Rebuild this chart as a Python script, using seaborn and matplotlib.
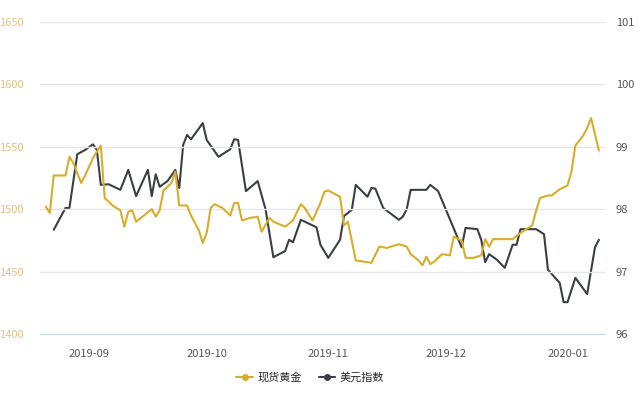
import numpy as np
import pandas as pd
import matplotlib
matplotlib.use("Agg")
import matplotlib.pyplot as plt
import matplotlib.dates as mdates
import seaborn as sns

# spot gold (left axis)
gold_dates = ["2019-08-21", "2019-08-22", "2019-08-23", "2019-08-26", "2019-08-27", "2019-08-28",
              "2019-08-30", "2019-08-31", "2019-09-02", "2019-09-04", "2019-09-05", "2019-09-07",
              "2019-09-09", "2019-09-10", "2019-09-11", "2019-09-12", "2019-09-13", "2019-09-17",
              "2019-09-18", "2019-09-19", "2019-09-20", "2019-09-22", "2019-09-23", "2019-09-24",
              "2019-09-26", "2019-09-27", "2019-09-29", "2019-09-30", "2019-10-01", "2019-10-02",
              "2019-10-03", "2019-10-05", "2019-10-07", "2019-10-08", "2019-10-09", "2019-10-10",
              "2019-10-12", "2019-10-14", "2019-10-15", "2019-10-17", "2019-10-18", "2019-10-21",
              "2019-10-23", "2019-10-25", "2019-10-26", "2019-10-28", "2019-10-30", "2019-10-31",
              "2019-11-01", "2019-11-04", "2019-11-05", "2019-11-06", "2019-11-08", "2019-11-12",
              "2019-11-14", "2019-11-16", "2019-11-19", "2019-11-21", "2019-11-22", "2019-11-24",
              "2019-11-25", "2019-11-26", "2019-11-27", "2019-11-28", "2019-11-30", "2019-12-02",
              "2019-12-03", "2019-12-05", "2019-12-06", "2019-12-08", "2019-12-10", "2019-12-11",
              "2019-12-12", "2019-12-13", "2019-12-18", "2019-12-20", "2019-12-23", "2019-12-24",
              "2019-12-25", "2019-12-27", "2019-12-28", "2019-12-30", "2020-01-01", "2020-01-02",
              "2020-01-03", "2020-01-05", "2020-01-06", "2020-01-07", "2020-01-09"]
gold_values = [1502, 1497, 1527, 1527, 1542, 1537,
               1521, 1527, 1541, 1551, 1509, 1503,
               1499, 1486, 1498, 1499, 1490, 1500,
               1494, 1499, 1515, 1521, 1530, 1503,
               1503, 1495, 1483, 1473, 1481, 1501,
               1504, 1501, 1495, 1505, 1505, 1491,
               1493, 1494, 1482, 1493, 1490, 1486,
               1491, 1504, 1501, 1491, 1505, 1514,
               1515, 1510, 1487, 1490, 1459, 1457,
               1470, 1469, 1472, 1470, 1464, 1459,
               1455, 1462, 1456, 1458, 1464, 1463,
               1478, 1475, 1461, 1461, 1463, 1476,
               1470, 1476, 1476, 1481, 1487, 1499,
               1509, 1511, 1511, 1516, 1519, 1530,
               1551, 1559, 1565, 1573, 1547]

# dollar index (right axis)
usd_dates = ["2019-08-23", "2019-08-26", "2019-08-27", "2019-08-29", "2019-08-31", "2019-09-02",
             "2019-09-03", "2019-09-04", "2019-09-06", "2019-09-09", "2019-09-11", "2019-09-13",
             "2019-09-16", "2019-09-17", "2019-09-18", "2019-09-19", "2019-09-21", "2019-09-23",
             "2019-09-24", "2019-09-25", "2019-09-26", "2019-09-27", "2019-09-30", "2019-10-01",
             "2019-10-04", "2019-10-07", "2019-10-08", "2019-10-09", "2019-10-11", "2019-10-14",
             "2019-10-16", "2019-10-18", "2019-10-21", "2019-10-22", "2019-10-23", "2019-10-25",
             "2019-10-29", "2019-10-30", "2019-11-01", "2019-11-04", "2019-11-05", "2019-11-07",
             "2019-11-08", "2019-11-11", "2019-11-12", "2019-11-13", "2019-11-15", "2019-11-19",
             "2019-11-20", "2019-11-21", "2019-11-22", "2019-11-26", "2019-11-27", "2019-11-29",
             "2019-12-05", "2019-12-06", "2019-12-09", "2019-12-10", "2019-12-11", "2019-12-12",
             "2019-12-14", "2019-12-16", "2019-12-18", "2019-12-19", "2019-12-20", "2019-12-24",
             "2019-12-26", "2019-12-27", "2019-12-30", "2019-12-31", "2020-01-01", "2020-01-03",
             "2020-01-06", "2020-01-08", "2020-01-09"]
usd_values = [97.67, 98.02, 98.02, 98.88, 98.95, 99.04,
              98.95, 98.39, 98.40, 98.31, 98.63, 98.21,
              98.63, 98.21, 98.56, 98.36, 98.45, 98.63,
              98.34, 99.03, 99.19, 99.12, 99.38, 99.11,
              98.84, 98.96, 99.12, 99.11, 98.29, 98.45,
              98.00, 97.23, 97.33, 97.51, 97.47, 97.83,
              97.71, 97.43, 97.22, 97.51, 97.89, 97.99,
              98.39, 98.20, 98.34, 98.33, 98.02, 97.83,
              97.88, 98.00, 98.31, 98.31, 98.39, 98.29,
              97.39, 97.70, 97.68, 97.51, 97.15, 97.28,
              97.19, 97.06, 97.43, 97.43, 97.68, 97.68,
              97.60, 97.03, 96.82, 96.51, 96.51, 96.90,
              96.64, 97.39, 97.51]

gold = pd.DataFrame({"date": pd.to_datetime(gold_dates), "value": gold_values})
usd = pd.DataFrame({"date": pd.to_datetime(usd_dates), "value": usd_values})

sns.set_style("white")
plt.rcParams["font.family"] = ["Noto Sans CJK SC", "DejaVu Sans"]

gold_color = "#d6ae2c"
usd_color = "#3b3f45"

fig = plt.figure(figsize=(6.4, 4.0), dpi=100)
ax = fig.add_axes([0.0625, 0.165, 0.8825, 0.78])
ax2 = ax.twinx()

sns.lineplot(data=gold, x="date", y="value", ax=ax, color=gold_color, linewidth=1.5, legend=False)
sns.lineplot(data=usd, x="date", y="value", ax=ax2, color=usd_color, linewidth=1.5, legend=False)

ax.set_ylim(1400, 1650)
ax.set_yticks([1400, 1450, 1500, 1550, 1600, 1650])
ax2.set_ylim(96, 101)
ax2.set_yticks([96, 97, 98, 99, 100, 101])
ax.set_xlim(pd.Timestamp("2019-08-19 12:00"), pd.Timestamp("2020-01-10 12:00"))

ax.xaxis.set_major_locator(mdates.MonthLocator())
ax.xaxis.set_major_formatter(mdates.DateFormatter("%Y-%m"))

ax.grid(axis="y", color="#e6e6e6", linewidth=1)
ax.grid(axis="x", visible=False)
ax2.grid(False)
for a in (ax, ax2):
    for s in ["top", "left", "right"]:
        a.spines[s].set_visible(False)
    a.set_xlabel("")
    a.set_ylabel("")
ax.spines["bottom"].set_color("#ccd6eb")
ax2.spines["bottom"].set_visible(False)
ax.set_zorder(ax2.get_zorder() + 1)
ax.patch.set_visible(False)

ax.tick_params(axis="y", length=0, labelsize=8, labelcolor="#d9c48a", pad=12)
ax.tick_params(axis="x", length=5, color="#ccd6eb", labelsize=8, labelcolor="#555555", pad=6)
ax2.tick_params(axis="y", length=0, labelsize=8, labelcolor="#555555", pad=8)

handles = [plt.Line2D([], [], color=gold_color, marker="o", markersize=4, linewidth=1.5),
           plt.Line2D([], [], color=usd_color, marker="o", markersize=4, linewidth=1.5)]
fig.legend(handles, ["现货黄金", "美元指数"], loc="center", bbox_to_anchor=(0.485, 0.057),
           ncol=2, frameon=False, fontsize=8, handlelength=1.5, columnspacing=1.5,
           handletextpad=0.4)

fig.savefig("out.png", dpi=100)
